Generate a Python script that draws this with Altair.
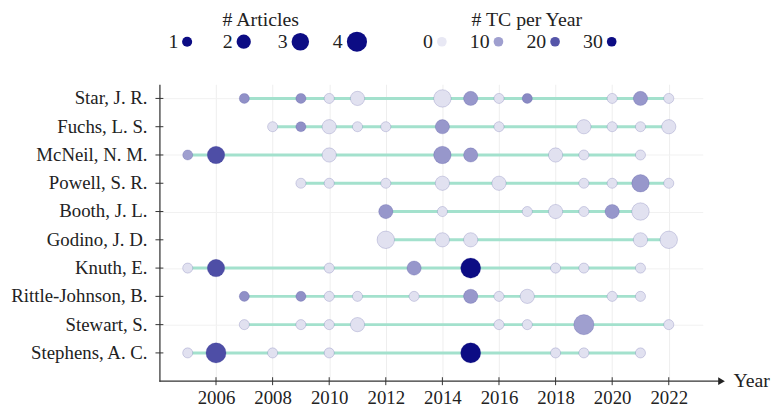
import altair as alt
import pandas as pd

FONT = "Liberation Serif"

AUTHORS = ["Star, J. R.", "Fuchs, L. S.", "McNeil, N. M.", "Powell, S. R.", "Booth, J. L.",
           "Godino, J. D.", "Knuth, E.", "Rittle-Johnson, B.", "Stewart, S.", "Stephens, A. C."]

# (year, # articles, # TC per year)
STAR = [(2007, 1, 12), (2009, 1, 12), (2010, 1, 1), (2011, 2, 1), (2014, 3, 1), (2015, 2, 11),
        (2016, 1, 1), (2017, 1, 13), (2020, 1, 1), (2021, 2, 11), (2022, 1, 1)]
FUCHS = [(2008, 1, 1), (2009, 1, 12), (2010, 2, 1), (2011, 1, 1), (2012, 1, 1), (2014, 2, 11),
         (2016, 1, 1), (2019, 2, 1), (2020, 1, 1), (2021, 1, 1), (2022, 2, 1)]
MCNEIL = [(2005, 1, 10), (2006, 3, 21), (2010, 2, 1), (2014, 3, 11), (2015, 2, 11),
          (2018, 2, 1), (2019, 1, 1), (2021, 1, 1)]
POWELL = [(2009, 1, 1), (2010, 1, 1), (2012, 1, 1), (2014, 2, 1), (2016, 2, 1), (2019, 1, 1),
          (2020, 1, 1), (2021, 3, 11), (2022, 1, 1)]
BOOTH = [(2012, 2, 11), (2014, 1, 1), (2017, 1, 1), (2018, 2, 1), (2019, 1, 1), (2020, 2, 11),
         (2021, 3, 1)]
GODINO = [(2012, 3, 1), (2014, 2, 1), (2015, 2, 1), (2021, 2, 1), (2022, 3, 1)]
KNUTH = [(2005, 1, 1), (2006, 3, 21), (2010, 1, 1), (2013, 2, 11), (2015, 4, 30), (2018, 1, 1),
         (2019, 1, 1), (2021, 1, 1)]
RITTLE = [(2007, 1, 12), (2009, 1, 12), (2010, 1, 1), (2011, 1, 1), (2013, 1, 1), (2015, 2, 11),
          (2016, 1, 1), (2017, 2, 1), (2020, 1, 1), (2021, 1, 1)]
STEWART = [(2007, 1, 1), (2009, 1, 1), (2010, 1, 1), (2011, 2, 1), (2016, 1, 1), (2017, 1, 1),
           (2019, 4, 10), (2022, 1, 1)]
STEPHENS = [(2005, 1, 1), (2006, 4, 21), (2008, 1, 1), (2010, 1, 1), (2015, 4, 30), (2018, 1, 1),
            (2019, 1, 1), (2021, 1, 1)]
ROWS = [STAR, FUCHS, MCNEIL, POWELL, BOOTH, GODINO, KNUTH, RITTLE, STEWART, STEPHENS]

X_TICKS = list(range(2006, 2023, 2))
ARTICLE_LEGEND = [1, 2, 3, 4]
TC_LEGEND = [0, 10, 20, 30]
LEGEND_TITLES = ["# Articles", "# TC per Year"]

records = []
for i, (name, rows) in enumerate(zip(AUTHORS, ROWS)):
    for yr, art, tc in rows:
        records.append(dict(author=name, row=i, year=yr, articles=art, tc=tc))
df = pd.DataFrame(records)
authors_df = pd.DataFrame({"author": AUTHORS, "row": list(range(len(AUTHORS)))})
one = pd.DataFrame({"k": [0]})

W, H = 549, 300
x_scale = alt.Scale(domain=[2004, 2023.2], nice=False, zero=False)
y_scale = alt.Scale(domain=[-0.5, 10], nice=False, zero=False, reverse=True)
color_scale = alt.Scale(domain=[0, 30], range=["#e8e8f4", "#0c0c84"], interpolate="rgb", clamp=True)
size_scale = alt.Scale(domain=[0, 4], range=[0, 415])

lines = alt.Chart(df).mark_rule(strokeWidth=3, color="#a3e1cd").encode(
    x=alt.X("min(year):Q", scale=x_scale,
            axis=alt.Axis(values=X_TICKS, format="d", grid=True, gridColor="#eeeeee", gridWidth=1,
                          domain=False, ticks=False, labelFontSize=19, labelPadding=8,
                          labelColor="#222", title=None, labelFlush=False, labelOverlap=False)),
    x2="max(year):Q",
    y=alt.Y("row:Q", scale=y_scale,
            axis=alt.Axis(values=list(range(10)), labels=False, grid=True,
                          gridColor="#f1f1f1", gridWidth=1, domain=True, domainColor="#555",
                          domainWidth=1.5, ticks=False, title=None)),
)

names = alt.Chart(authors_df).mark_text(align="right", baseline="middle", font=FONT, fontSize=19,
                                        color="#222").encode(
    y=alt.Y("row:Q", scale=y_scale), x=alt.value(-12), text="author:N")

xticks = alt.Chart(pd.DataFrame({"year": X_TICKS})).mark_rule(color="#333", strokeWidth=1).encode(
    x=alt.X("year:Q", scale=x_scale), y=alt.value(H - 4), y2=alt.value(H + 4))
yticks = alt.Chart(authors_df).mark_rule(color="#333", strokeWidth=1).encode(
    y=alt.Y("row:Q", scale=y_scale), x=alt.value(-4), x2=alt.value(4))

points = alt.Chart(df).mark_circle(opacity=1, stroke="#202080", strokeOpacity=0.18, strokeWidth=1).encode(
    x=alt.X("year:Q", scale=x_scale),
    y=alt.Y("row:Q", scale=y_scale),
    size=alt.Size("articles:Q", scale=size_scale, legend=None),
    color=alt.Color("tc:Q", scale=color_scale, legend=None),
)

x_line = alt.Chart(one).mark_rule(color="#333", strokeWidth=1.3).encode(
    x=alt.value(0), x2=alt.value(566), y=alt.value(H))
arrow = alt.Chart(one).mark_point(shape="triangle-right", filled=True, color="#222", size=60, opacity=1).encode(
    x=alt.value(568), y=alt.value(H))
year_lbl = alt.Chart(one).mark_text(align="left", baseline="middle", font=FONT, fontSize=20, color="#222").encode(
    x=alt.value(580), y=alt.value(H), text=alt.value("Year"))

main = alt.layer(lines, names, xticks, yticks, points, x_line, arrow, year_lbl)

# ----- legend (drawn above the plot with its own position scales) -----
art_df = pd.DataFrame({"slot": [0, 1, 2, 3], "lrow": 1, "value": ARTICLE_LEGEND,
                       "label": [str(v) for v in ARTICLE_LEGEND]})
tc_df = pd.DataFrame({"slot": [4.5, 5.5, 6.5, 7.5], "lrow": 1, "value": TC_LEGEND,
                      "label": [str(v) for v in TC_LEGEND]})
title_df = pd.DataFrame({"slot": [1.3, 6.0], "lrow": 0, "label": LEGEND_TITLES})

lx = alt.Scale(domain=[0, 7.5], range=[28, 457])
ly = alt.Scale(domain=[0, 1], range=[-65, -43])

art_circles = alt.Chart(art_df).mark_circle(color="#0c0c84", opacity=1).encode(
    x=alt.X("slot:Q", scale=lx, axis=None), y=alt.Y("lrow:Q", scale=ly, axis=None),
    size=alt.Size("value:Q", scale=size_scale, legend=None))
art_labels = alt.Chart(art_df).transform_calculate(
    lxp="datum.slot - (sqrt(datum.value * 415 / 4 / PI) + 3) / 57.2"
).mark_text(align="right", baseline="middle", font=FONT, fontSize=20, color="#222").encode(
    x=alt.X("lxp:Q", scale=lx, axis=None), y=alt.Y("lrow:Q", scale=ly, axis=None), text="label:N")
tc_circles = alt.Chart(tc_df).mark_circle(size=95, opacity=1).encode(
    x=alt.X("slot:Q", scale=lx, axis=None), y=alt.Y("lrow:Q", scale=ly, axis=None),
    color=alt.Color("value:Q", scale=color_scale, legend=None))
tc_labels = alt.Chart(tc_df).transform_calculate(
    lxp="datum.slot - 9 / 57.2"
).mark_text(align="right", baseline="middle", font=FONT, fontSize=20, color="#222").encode(
    x=alt.X("lxp:Q", scale=lx, axis=None), y=alt.Y("lrow:Q", scale=ly, axis=None), text="label:N")
titles = alt.Chart(title_df).mark_text(align="center", baseline="middle", font=FONT, fontSize=20,
                                       color="#222").encode(
    x=alt.X("slot:Q", scale=lx, axis=None), y=alt.Y("lrow:Q", scale=ly, axis=None), text="label:N")

legend = alt.layer(art_circles, tc_circles, art_labels, tc_labels, titles)

chart = alt.layer(main, legend).resolve_scale(x="independent", y="independent").properties(
    width=W, height=H,
    padding={"left": 153, "top": 75, "right": 70, "bottom": 25},
    autosize=alt.AutoSizeParams(type="none"),
    background="white",
).configure_view(stroke=None).configure_axis(labelFont=FONT)

chart.save("out.html", embed_options={"renderer": "svg", "actions": False})
